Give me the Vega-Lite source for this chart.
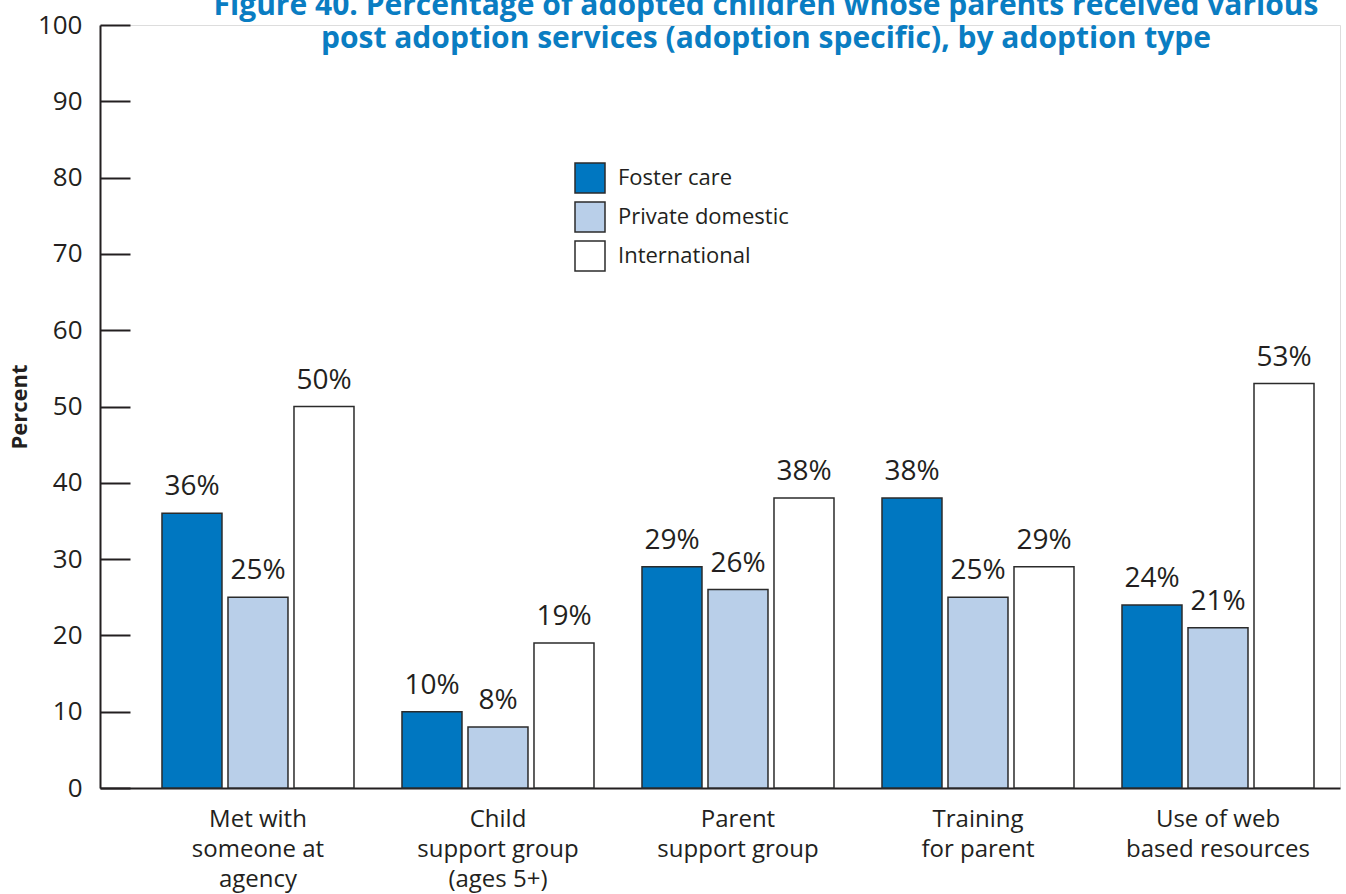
{
  "$schema": "https://vega.github.io/schema/vega-lite/v6.json",
  "width": 1240,
  "height": 763,
  "autosize": {"type": "none"},
  "padding": {"left": 100, "top": 25, "right": 6, "bottom": 106},
  "background": "white",
  "title": {
    "text": [
      "Figure 40. Percentage of adopted children whose parents received various",
      "post adoption services (adoption specific), by adoption type"
    ],
    "color": "#0a7dc2",
    "font": "Open Sans",
    "fontSize": 30,
    "fontWeight": "bold",
    "anchor": "middle",
    "dx": 46,
    "dy": 46,
    "lineHeight": 33
  },
  "data": {
    "values": [
      {"service": "Met with|someone at|agency", "type": "Foster care", "value": 36},
      {"service": "Met with|someone at|agency", "type": "Private domestic", "value": 25},
      {"service": "Met with|someone at|agency", "type": "International", "value": 50},
      {"service": "Child|support group|(ages 5+)", "type": "Foster care", "value": 10},
      {"service": "Child|support group|(ages 5+)", "type": "Private domestic", "value": 8},
      {"service": "Child|support group|(ages 5+)", "type": "International", "value": 19},
      {"service": "Parent|support group", "type": "Foster care", "value": 29},
      {"service": "Parent|support group", "type": "Private domestic", "value": 26},
      {"service": "Parent|support group", "type": "International", "value": 38},
      {"service": "Training|for parent", "type": "Foster care", "value": 38},
      {"service": "Training|for parent", "type": "Private domestic", "value": 25},
      {"service": "Training|for parent", "type": "International", "value": 29},
      {"service": "Use of web|based resources", "type": "Foster care", "value": 24},
      {"service": "Use of web|based resources", "type": "Private domestic", "value": 21},
      {"service": "Use of web|based resources", "type": "International", "value": 53}
    ]
  },
  "transform": [
    {"calculate": "datum.value + '%'", "as": "label"}
  ],
  "encoding": {
    "x": {
      "field": "service",
      "type": "nominal",
      "sort": null,
      "scale": {"paddingInner": 0, "paddingOuter": 0.0833, "align": 0.95},
      "axis": {
        "title": null,
        "ticks": false,
        "labelAngle": 0,
        "labelExpr": "split(datum.label, '|')",
        "labelFont": "Open Sans",
        "labelFontSize": 24,
        "labelColor": "#231f20",
        "labelLineHeight": 30,
        "labelPadding": 19,
        "labelBaseline": "top",
        "labelLimit": 0,
        "domainColor": "#231f20",
        "domainWidth": 2
      }
    },
    "xOffset": {
      "field": "type",
      "type": "nominal",
      "sort": ["Foster care", "Private domestic", "International"],
      "scale": {"paddingInner": 0.0909, "paddingOuter": 0.3636}
    },
    "y": {
      "field": "value",
      "type": "quantitative",
      "scale": {"domain": [0, 100], "nice": false},
      "axis": {
        "title": "Percent",
        "titleFont": "Open Sans",
        "titleFontSize": 22,
        "titleFontWeight": "bold",
        "titleColor": "#231f20",
        "titlePadding": 6,
        "values": [0, 10, 20, 30, 40, 50, 60, 70, 80, 90, 100],
        "grid": false,
        "tickSize": -30,
        "tickWidth": 2,
        "tickColor": "#231f20",
        "domainColor": "#231f20",
        "domainWidth": 2,
        "labelFont": "Open Sans",
        "labelFontSize": 26,
        "labelColor": "#231f20",
        "labelPadding": 48
      }
    }
  },
  "layer": [
    {
      "mark": {"type": "bar", "stroke": "#2b2b2b", "strokeWidth": 1.5},
      "encoding": {
        "fill": {
          "field": "type",
          "type": "nominal",
          "sort": ["Foster care", "Private domestic", "International"],
          "scale": {
            "domain": ["Foster care", "Private domestic", "International"],
            "range": ["#0077c1", "#b9cfe9", "#ffffff"]
          },
          "legend": {
            "title": null,
            "orient": "none",
            "legendX": 474,
            "legendY": 137,
            "padding": 0,
            "symbolType": "square",
            "symbolSize": 900,
            "symbolStrokeColor": "#2b2b2b",
            "symbolStrokeWidth": 1.5,
            "symbolOpacity": 1,
            "labelFont": "Open Sans",
            "labelFontSize": 22,
            "labelColor": "#231f20",
            "labelOffset": 12,
            "labelLimit": 0,
            "rowPadding": 3
          }
        }
      }
    },
    {
      "mark": {
        "type": "text",
        "baseline": "alphabetic",
        "dy": -18,
        "font": "Open Sans",
        "fontSize": 28,
        "color": "#231f20"
      },
      "encoding": {
        "text": {"field": "label"}
      }
    }
  ]
}
